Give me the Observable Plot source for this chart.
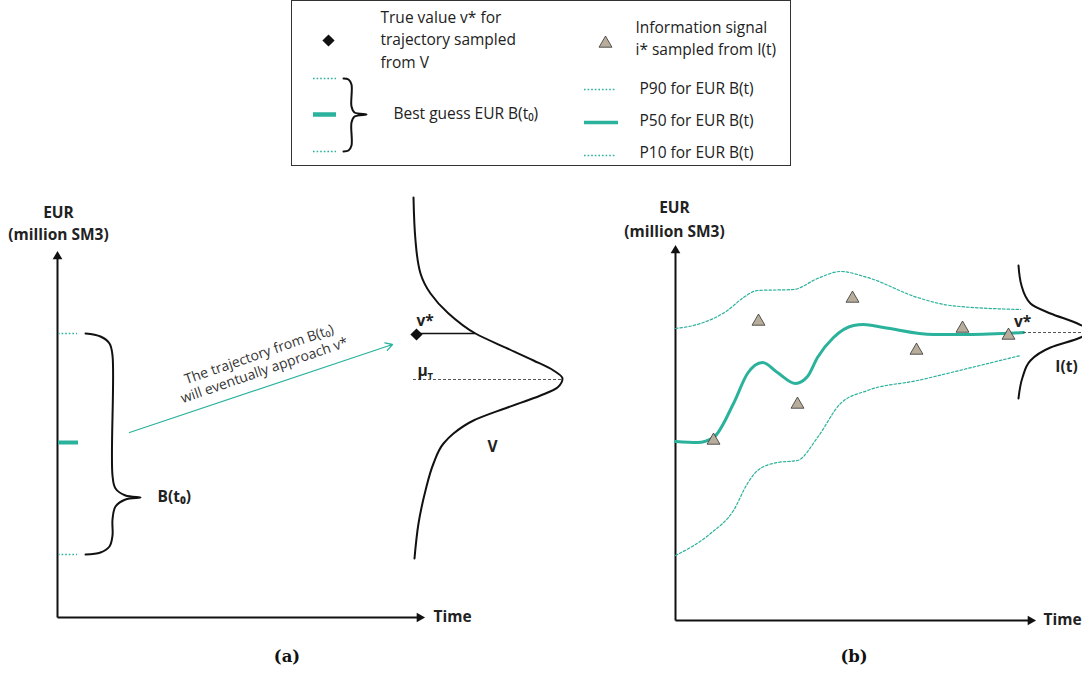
<!DOCTYPE html>
<html><head><meta charset="utf-8">
<script src="https://cdn.jsdelivr.net/npm/d3@7"></script>
<script src="https://cdn.jsdelivr.net/npm/@observablehq/plot@0.6"></script>
<style>
body{margin:0;background:#fff;}
#page{position:relative;width:1082px;height:677px;overflow:hidden;font-family:"Open Sans",sans-serif;}
#legend{position:absolute;left:291px;top:0;width:498px;height:164px;border:1px solid #333;}
#pa{position:absolute;left:0;top:170px;}
#pb{position:absolute;left:541px;top:170px;}
.cap{position:absolute;top:647px;font-family:"DejaVu Serif",serif;font-weight:bold;font-size:16.5px;transform:translateX(-50%);color:#111;}
</style></head>
<body><div id="page"><div id="legend"></div><div id="pa"></div><div id="pb"></div>
<div class="cap" style="left:287px">(a)</div><div class="cap" style="left:854px">(b)</div></div>
<script>
// ---------- Legend data (box units) ----------
const legendDiamond = [{x: 36, y: 39}];
const legendDiamondText = [{x: 88, y: 17, t: "True value v* for"}, {x: 88, y: 39, t: "trajectory sampled"}, {x: 88, y: 62, t: "from V"}];
const legendTriangle = [{x: 313, y: 42}];
const legendTriangleText = [{x: 343, y: 27, t: "Information signal"}, {x: 343, y: 49, t: "i* sampled from I(t)"}];
const legendLeftDotted = [{x1: 21, x2: 44, y: 77}, {x1: 21, x2: 44, y: 150}];
const legendLeftSolid = [{x1: 21, x2: 44, y: 113}];
const legendBrace = [[51,77],[56,78],[59,83],[59,105],[62,111],[74,113],[62,115],[59,121],[59,144],[56,149],[51,150]];
const legendBraceText = [{x: 101, y: 113, t: "Best guess EUR B(t₀)"}];
const legendRightDotted = [{x1: 292, x2: 324, y: 88}, {x1: 292, x2: 324, y: 154}];
const legendRightSolid = [{x1: 292, x2: 326, y: 121}];
const legendPercentileText = [{x: 347, y: 88, t: "P90 for EUR B(t)"}, {x: 347, y: 120, t: "P50 for EUR B(t)"}, {x: 347, y: 152, t: "P10 for EUR B(t)"}];

// ---------- Panel (a) data (time, EUR units) ----------
const aAxes = [{x1: 0, y1: 0, x2: 0, y2: 362}, {x1: 0, y1: 0, x2: 363, y2: 0}];
const aArrowHeads = [{x: 0, y: 361, r: 0}, {x: 362, y: 0, r: 90}];
const aYLabel = [{x: 1, y: 404, t: "EUR"}, {x: 1, y: 382, t: "(million SM3)"}];
const aXLabel = [{x: 376, y: 0, t: "Time"}];
const aP90 = [{x1: 1, x2: 20, y: 284}];
const aP10 = [{x1: 1, x2: 20, y: 63}];
const aP50 = [{x1: 1, x2: 21, y: 175}];
const aBrace = [[28,284],[43,281],[52,274],[55,262],[55,142],[58,129],[68,122],[83,120],[68,118],[58,111],[55,98],[55,82],[52,71],[43,65],[28,63]];
const aBraceText = [{x: 100, y: 120, t: "B(t₀)"}];
const aTrajArrow = [{x1: 72, y1: 185, x2: 335, y2: 273}];
const aTrajText = [{x: 204, y: 256, t: "The trajectory from B(t₀)\nwill eventually approach v*"}];
const aV = [[356,420],[358,377],[363,344],[373,324],[390,305],[418,284],[450,269],[476,257],[496,247],[505,239],[500,230],[483,222],[450,210],[416,197],[396,184],[386,174],[376,154],[368,127],[361,94],[357,59]];
const aVstar = [{x: 359, y: 283}];
const aVstarLine = [{x1: 359, x2: 418, y: 284}];
const aMuLine = [{x1: 356, x2: 505, y: 238}];
const aLabels = [{x: 359, y: 296, t: "v*"}, {x: 430, y: 170, t: "V"}];
const aMu = [{x: 360, y: 246, t: "μ"}];
const aMuSub = [{x: 370, y: 242, t: "T"}];

// ---------- Panel (b) data (time, EUR units) ----------
const bAxes = [{x1: 0, y1: 0, x2: 0, y2: 371}, {x1: 0, y1: 0, x2: 356, y2: 0}];
const bArrowHeads = [{x: 0, y: 370, r: 0}, {x: 355, y: 0, r: 90}];
const bYLabel = [{x: -1, y: 412, t: "EUR"}, {x: -1, y: 388, t: "(million SM3)"}];
const bXLabel = [{x: 368, y: 0, t: "Time"}];
const bP50 = [[0,179],[22,178],[38,183],[58,217],[72,247],[87,258],[102,248],[120,237],[132,244],[142,263],[158,283],[178,295],[188,296],[208,293],[258,286],[292,286],[348,288]];
const bP90 = [[0,292],[25,297],[52,310],[68,323],[82,330],[118,331],[142,342],[165,349],[192,343],[242,323],[275,315],[345,311]];
const bP10 = [[0,65],[35,87],[58,110],[72,137],[82,150],[102,158],[122,160],[142,183],[165,217],[192,230],[242,240],[292,252],[345,265]];
const bSignals = [[38,180],[83,299],[122,216],[177,322],[241,270],[287,292],[333,285]];
const bI = [[343,355],[346,335],[355,317],[375,307],[402,297],[415,289],[405,283],[375,273],[355,260],[347,243],[343,222]];
const bVstarLine = [{x1: 348, x2: 412, y: 288}];
const bLabels = [{x: 347, y: 298, t: "v*", a: "start"}, {x: 391, y: 253, t: "I(t)", a: "middle"}];

const teal = "#2bb29c";
const ink = "#111";
const triFill = "#b7ad9a";
const font = "'Open Sans', sans-serif";
const toXY = arr => arr.map(([x, y]) => ({x, y}));
const legendFont = 15.5;
const boldFont = 15.5;

// ---------- Legend ----------
const legend = Plot.plot({
  width: 498, height: 164, margin: 0,
  x: {domain: [0, 498], axis: null}, y: {domain: [164, 0], axis: null},
  style: {fontFamily: font, overflow: "visible", background: "transparent"},
  marks: [
    Plot.dot(legendDiamond, {x: "x", y: "y", symbol: "diamond2", r: 5.5, fill: ink}),
    Plot.text(legendDiamondText, {x: "x", y: "y", text: "t", textAnchor: "start", fontSize: legendFont, fill: "#222"}),
    Plot.dot(legendTriangle, {x: "x", y: "y", symbol: "triangle", r: 4.8, fill: triFill, stroke: "#333", strokeWidth: 0.8}),
    Plot.text(legendTriangleText, {x: "x", y: "y", text: "t", textAnchor: "start", fontSize: legendFont, fill: "#222"}),
    Plot.ruleY(legendLeftDotted, {y: "y", x1: "x1", x2: "x2", stroke: teal, strokeWidth: 1.6, strokeDasharray: "1.6,2"}),
    Plot.ruleY(legendLeftSolid, {y: "y", x1: "x1", x2: "x2", stroke: teal, strokeWidth: 4.5}),
    Plot.line(toXY(legendBrace), {x: "x", y: "y", curve: "catmull-rom", stroke: ink, strokeWidth: 2}),
    Plot.text(legendBraceText, {x: "x", y: "y", text: "t", textAnchor: "start", fontSize: legendFont, fill: "#222"}),
    Plot.ruleY(legendRightDotted, {y: "y", x1: "x1", x2: "x2", stroke: teal, strokeWidth: 1.6, strokeDasharray: "1.6,2"}),
    Plot.ruleY(legendRightSolid, {y: "y", x1: "x1", x2: "x2", stroke: teal, strokeWidth: 3.5}),
    Plot.text(legendPercentileText, {x: "x", y: "y", text: "t", textAnchor: "start", fontSize: legendFont, fill: "#222"})
  ]
});
document.getElementById("legend").appendChild(legend);

// ---------- Panel (a) ----------
const pa = Plot.plot({
  width: 540, height: 480, marginLeft: 57, marginRight: 120, marginTop: 83, marginBottom: 33,
  x: {domain: [0, 363], axis: null}, y: {domain: [0, 364], axis: null},
  style: {fontFamily: font, overflow: "visible", background: "transparent"},
  marks: [
    Plot.link(aAxes, {x1: "x1", y1: "y1", x2: "x2", y2: "y2", stroke: ink, strokeWidth: 2}),
    Plot.dot(aArrowHeads, {x: "x", y: "y", rotate: "r", symbol: "triangle", r: 3.6, fill: ink}),
    Plot.text(aYLabel, {x: "x", y: "y", text: "t", fontSize: boldFont, fontWeight: "bold", fill: "#222"}),
    Plot.text(aXLabel, {x: "x", y: "y", text: "t", textAnchor: "start", fontSize: boldFont, fontWeight: "bold", fill: "#222"}),
    Plot.ruleY(aP90, {y: "y", x1: "x1", x2: "x2", stroke: teal, strokeWidth: 1.5, strokeDasharray: "1.6,2"}),
    Plot.ruleY(aP10, {y: "y", x1: "x1", x2: "x2", stroke: teal, strokeWidth: 1.5, strokeDasharray: "1.6,2"}),
    Plot.ruleY(aP50, {y: "y", x1: "x1", x2: "x2", stroke: teal, strokeWidth: 4}),
    Plot.line(toXY(aBrace), {x: "x", y: "y", curve: "catmull-rom", stroke: ink, strokeWidth: 2}),
    Plot.text(aBraceText, {x: "x", y: "y", text: "t", textAnchor: "start", fontSize: boldFont, fontWeight: "bold", fill: "#222"}),
    Plot.arrow(aTrajArrow, {x1: "x1", y1: "y1", x2: "x2", y2: "y2", stroke: teal, strokeWidth: 1.3, headLength: 9}),
    Plot.text(aTrajText, {x: "x", y: "y", text: "t", rotate: -19, fontSize: 14, lineHeight: 1.2, fill: "#333"}),
    Plot.line(toXY(aV), {x: "x", y: "y", curve: "monotone-y", stroke: ink, strokeWidth: 2}),
    Plot.ruleY(aVstarLine, {y: "y", x1: "x1", x2: "x2", stroke: ink, strokeWidth: 1.3}),
    Plot.ruleY(aMuLine, {y: "y", x1: "x1", x2: "x2", stroke: "#555", strokeWidth: 1, strokeDasharray: "3,2"}),
    Plot.dot(aVstar, {x: "x", y: "y", symbol: "diamond2", r: 5.5, fill: ink}),
    Plot.text(aLabels, {x: "x", y: "y", text: "t", textAnchor: "start", fontSize: boldFont, fontWeight: "bold", fill: "#222"}),
    Plot.text(aMu, {x: "x", y: "y", text: "t", textAnchor: "start", fontSize: boldFont, fontWeight: "bold", fill: "#222"}),
    Plot.text(aMuSub, {x: "x", y: "y", text: "t", textAnchor: "start", fontSize: 9.5, fontWeight: "bold", fill: "#222"})
  ]
});
document.getElementById("pa").appendChild(pa);

// ---------- Panel (b) ----------
const pb = Plot.plot({
  width: 541, height: 480, marginLeft: 134, marginRight: 49, marginTop: 77, marginBottom: 30,
  x: {domain: [0, 358], axis: null}, y: {domain: [0, 373], axis: null},
  style: {fontFamily: font, overflow: "visible", background: "transparent"},
  marks: [
    Plot.link(bAxes, {x1: "x1", y1: "y1", x2: "x2", y2: "y2", stroke: ink, strokeWidth: 2}),
    Plot.dot(bArrowHeads, {x: "x", y: "y", rotate: "r", symbol: "triangle", r: 3.6, fill: ink}),
    Plot.text(bYLabel, {x: "x", y: "y", text: "t", fontSize: boldFont, fontWeight: "bold", fill: "#222"}),
    Plot.text(bXLabel, {x: "x", y: "y", text: "t", textAnchor: "start", fontSize: boldFont, fontWeight: "bold", fill: "#222"}),
    Plot.line(toXY(bP90), {x: "x", y: "y", curve: "monotone-x", stroke: teal, strokeWidth: 1.2, strokeDasharray: "2.5,2"}),
    Plot.line(toXY(bP10), {x: "x", y: "y", curve: "monotone-x", stroke: teal, strokeWidth: 1.2, strokeDasharray: "2.5,2"}),
    Plot.line(toXY(bP50), {x: "x", y: "y", curve: "monotone-x", stroke: teal, strokeWidth: 3}),
    Plot.ruleY(bVstarLine, {y: "y", x1: "x1", x2: "x2", stroke: "#555", strokeWidth: 1, strokeDasharray: "3,2"}),
    Plot.line(toXY(bI), {x: "x", y: "y", curve: "monotone-y", stroke: ink, strokeWidth: 2}),
    Plot.dot(toXY(bSignals), {x: "x", y: "y", symbol: "triangle", r: 4.8, fill: triFill, stroke: "#333", strokeWidth: 0.8}),
    Plot.text(bLabels, {x: "x", y: "y", text: "t", textAnchor: "a", fontSize: boldFont, fontWeight: "bold", fill: "#222"})
  ]
});
document.getElementById("pb").appendChild(pb);
</script>
</body></html>
